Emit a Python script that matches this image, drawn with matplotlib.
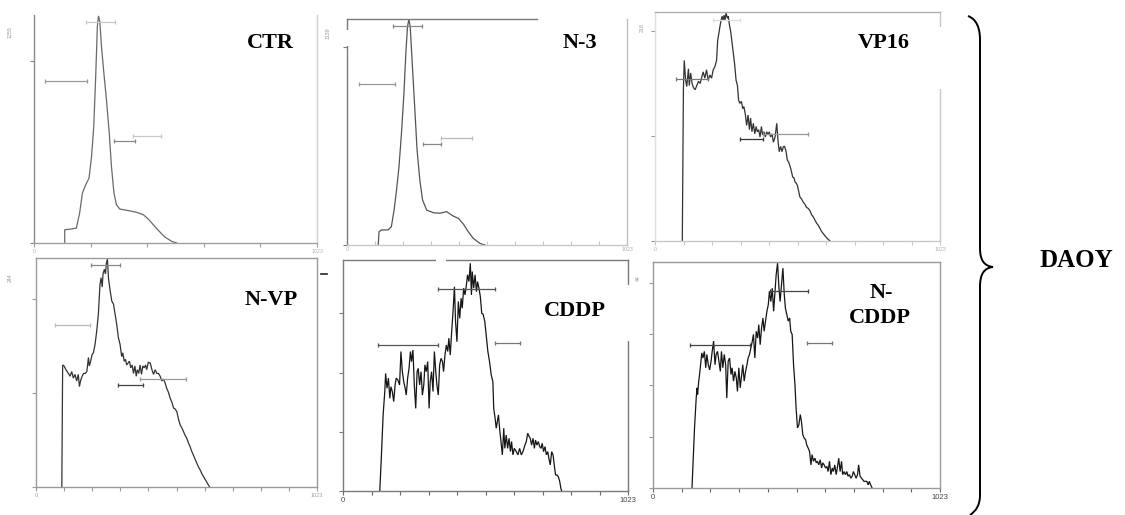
import matplotlib
matplotlib.use("Agg")
import matplotlib.pyplot as plt
from matplotlib.patches import Rectangle, PathPatch
from matplotlib.path import Path
from matplotlib.lines import Line2D

W, H = 1125, 515

# DNA content histograms: (channel, cell count)
ctr = [(111, 0), (111, 73), (135, 77), (153, 82), (165, 165), (175, 275), (187, 321), (199, 357),
       (208, 476), (216, 641), (223, 916), (229, 1191), (233, 1250), (238, 1218), (244, 1081),
       (252, 944), (262, 788), (272, 605), (280, 421), (289, 275), (298, 211), (310, 187),
       (335, 180), (371, 169), (395, 156), (413, 132), (431, 101), (449, 70), (473, 33),
       (498, 9), (516, 0)]

n3 = [(114, 0), (117, 67), (126, 76), (150, 76), (162, 92), (172, 176), (181, 277), (190, 395),
      (199, 563), (208, 764), (215, 966), (221, 1100), (226, 1137), (231, 1100), (239, 899),
      (248, 680), (256, 479), (266, 328), (276, 227), (291, 176), (315, 163), (339, 160),
      (364, 168), (388, 146), (407, 134), (425, 106), (443, 67), (461, 34), (486, 8), (504, 0)]

vp16 = [(98, 0), (102, 145), (105, 172), (110, 153), (114, 147), (120, 164), (123, 148), (128, 160),
        (133, 150), (138, 146), (144, 144), (150, 148), (156, 152), (162, 150), (168, 156),
        (173, 161), (179, 155), (185, 163), (191, 153), (197, 158), (203, 155), (209, 163),
        (215, 166), (221, 172), (225, 191), (230, 199), (233, 204), (237, 210), (241, 214),
        (244, 210), (248, 215), (251, 210), (255, 217), (260, 212), (263, 214), (267, 206),
        (272, 199), (276, 190), (281, 179), (286, 168), (291, 153), (296, 148), (300, 134),
        (305, 131), (310, 133), (315, 126), (319, 128), (324, 121), (329, 110), (334, 120),
        (339, 106), (343, 117), (348, 104), (353, 112), (358, 102), (363, 109), (367, 104),
        (372, 106), (377, 99), (382, 109), (386, 101), (391, 104), (396, 99), (401, 104),
        (406, 101), (410, 104), (415, 99), (420, 102), (425, 94), (431, 99), (437, 112),
        (442, 94), (446, 85), (451, 90), (456, 85), (461, 90), (465, 90), (470, 86), (475, 77),
        (480, 75), (485, 71), (490, 66), (494, 61), (499, 60), (503, 56), (507, 55), (511, 53),
        (516, 47), (520, 42), (526, 40), (532, 37), (538, 35), (544, 32), (550, 31), (556, 29),
        (562, 25), (568, 23), (574, 20), (580, 17), (586, 15), (592, 12), (598, 9), (604, 7),
        (610, 5), (616, 3), (628, 0)]

nvp = [(94, 0), (97, 130), (102, 129), (109, 125), (118, 121), (124, 118), (130, 123), (136, 116),
       (142, 120), (148, 113), (154, 120), (158, 107), (163, 114), (168, 118), (173, 121),
       (179, 121), (185, 123), (191, 138), (194, 129), (199, 134), (204, 141), (209, 143),
       (215, 152), (221, 166), (227, 184), (233, 216), (237, 223), (241, 213), (244, 227),
       (249, 232), (253, 227), (256, 238), (260, 243), (264, 222), (270, 209), (276, 198),
       (282, 195), (288, 184), (294, 173), (300, 159), (306, 152), (312, 139), (316, 143),
       (321, 134), (326, 136), (330, 130), (335, 132), (340, 134), (345, 127), (350, 130),
       (355, 121), (360, 129), (365, 118), (369, 125), (374, 121), (379, 130), (384, 120),
       (389, 129), (394, 127), (399, 130), (403, 125), (409, 133), (416, 132), (422, 125),
       (428, 120), (434, 125), (440, 121), (446, 121), (452, 118), (458, 113), (464, 115),
       (470, 111), (476, 105), (482, 101), (488, 95), (495, 90), (501, 84), (507, 83),
       (513, 80), (519, 72), (525, 66), (531, 63), (537, 59), (543, 55), (549, 52), (555, 47),
       (561, 43), (567, 38), (573, 34), (580, 29), (586, 25), (592, 21), (598, 18), (604, 14),
       (610, 11), (616, 8), (622, 5), (632, 0)]

cddp = [(132, 0), (138, 12.2), (144, 25.7), (150, 33.6), (153, 39.7), (158, 34.7), (163, 38.1),
        (168, 31.3), (172, 35.2), (177, 33.6), (182, 30.2), (187, 35.8), (191, 38.1), (197, 37.5),
        (203, 35.8), (208, 47.1), (213, 40.3), (218, 36.9), (223, 34.7), (227, 32.4), (232, 38.1),
        (237, 41.4), (242, 47.1), (246, 43.7), (251, 47.6), (256, 35.8), (261, 27.9), (266, 40.3),
        (270, 41.4), (275, 35.8), (280, 40.3), (285, 32.4), (290, 35.8), (294, 42.6), (299, 40.3),
        (304, 43.7), (309, 27.9), (313, 36.9), (318, 40.3), (323, 33.6), (328, 47.1), (333, 40.3),
        (337, 35.8), (342, 32.4), (347, 42.6), (352, 44.8), (357, 43.7), (361, 40.3), (366, 45.9),
        (371, 49.3), (376, 47.1), (380, 51.6), (385, 45.9), (390, 53.8), (395, 60.6), (400, 69.0),
        (404, 57.2), (409, 50.4), (414, 64.0), (419, 58.3), (424, 65.1), (428, 61.7), (433, 68.5),
        (438, 66.2), (443, 69.6), (447, 73.0), (452, 70.7), (457, 76.9), (461, 66.2), (464, 74.1),
        (469, 68.5), (474, 73.0), (479, 67.3), (483, 70.7), (488, 68.5), (493, 65.6), (498, 60.0),
        (503, 59.7), (509, 57.2), (514, 52.7), (520, 47.1), (526, 43.7), (532, 39.2), (538, 36.9),
        (541, 27.9), (546, 24.5), (550, 21.2), (558, 25.7), (562, 21.2), (567, 16.7), (572, 12.2),
        (577, 21.2), (581, 14.4), (586, 18.9), (591, 14.4), (596, 17.8), (601, 13.3), (605, 16.7),
        (610, 12.2), (615, 14.4), (622, 13.3), (628, 12.2), (634, 14.4), (640, 12.2), (646, 13.3),
        (653, 15.5), (658, 16.7), (663, 19.5), (668, 18.4), (672, 17.8), (677, 15.5), (682, 17.8),
        (687, 14.4), (691, 17.2), (696, 15.5), (701, 16.7), (706, 15.0), (711, 14.4), (715, 16.1),
        (720, 13.3), (725, 15.0), (730, 12.2), (735, 13.3), (739, 11.0), (744, 8.8), (749, 13.3),
        (754, 12.2), (759, 8.2), (763, 5.4), (768, 5.4), (773, 4.8), (778, 3.2), (782, 0.9),
        (785, 0)]

ncddp = [(139, 0), (142, 3.9), (148, 11.7), (154, 17.5), (157, 19.5), (159, 18.2), (163, 20.8),
         (166, 22.1), (171, 24.7), (174, 26.3), (178, 25.3), (183, 26.6), (188, 23.4), (192, 26.0),
         (197, 24.0), (202, 23.0), (207, 24.7), (211, 26.6), (216, 28.6), (221, 24.0), (225, 26.0),
         (230, 26.6), (235, 24.7), (240, 22.7), (244, 26.6), (249, 23.4), (254, 26.0), (259, 24.0),
         (263, 17.5), (268, 24.7), (273, 25.3), (278, 22.1), (282, 23.4), (287, 20.8), (292, 22.7),
         (297, 21.4), (301, 18.8), (306, 23.4), (311, 19.5), (316, 22.1), (320, 24.0), (325, 20.8),
         (330, 22.7), (335, 24.0), (339, 25.3), (344, 26.0), (349, 27.3), (354, 28.6), (358, 29.9),
         (363, 25.3), (368, 30.5), (373, 29.2), (377, 31.8), (382, 27.9), (387, 31.2), (392, 33.1),
         (396, 30.5), (401, 32.5), (406, 34.4), (411, 35.7), (415, 38.3), (420, 36.3), (425, 38.9),
         (430, 34.4), (434, 37.6), (439, 41.5), (444, 43.8), (449, 38.9), (453, 36.3), (458, 39.6),
         (463, 42.8), (468, 37.6), (472, 35.0), (477, 33.7), (482, 32.5), (487, 33.1), (491, 30.5),
         (496, 29.9), (501, 24.0), (506, 20.1), (510, 15.6), (515, 11.7), (520, 12.3), (525, 14.3),
         (529, 13.0), (534, 10.4), (539, 9.7), (544, 9.4), (548, 8.4), (553, 7.8), (558, 7.1),
         (563, 4.5), (567, 6.5), (572, 5.2), (577, 5.8), (582, 4.9), (586, 5.2), (591, 4.5),
         (596, 5.5), (601, 3.9), (605, 4.9), (610, 4.5), (615, 3.9), (620, 4.2), (624, 3.2),
         (629, 5.2), (634, 2.6), (639, 3.9), (643, 3.2), (648, 4.5), (653, 2.6), (657, 3.9),
         (662, 5.8), (667, 3.2), (672, 5.2), (676, 2.6), (681, 3.2), (686, 2.6), (691, 3.2),
         (695, 2.3), (700, 2.6), (705, 1.9), (710, 2.3), (714, 3.2), (719, 2.6), (724, 1.9),
         (729, 2.6), (733, 4.5), (738, 2.3), (743, 1.9), (748, 1.6), (752, 1.3), (757, 1.3),
         (762, 1.3), (767, 0.6), (771, 1.3), (776, 0.6), (781, 0)]

# marker gates: (start channel, end channel, height, grey level)
ctr_gates = [(187, 292, 1215, "#c8c8c8"), (41, 190, 892, "#999999"),
             (290, 365, 559, "#888888"), (359, 458, 590, "#c8c8c8")]
n3_gates = [(168, 275, 1105, "#888888"), (44, 175, 810, "#999999"),
            (276, 343, 509, "#888888"), (343, 455, 538, "#bbbbbb")]
vp16_gates = [(207, 305, 210, "#dddddd"), (75, 191, 154, "#777777"),
              (305, 389, 97, "#333333"), (389, 550, 102, "#999999")]
nvp_gates = [(200, 304, 237, "#888888"), (69, 197, 173, "#bbbbbb"),
             (300, 389, 109, "#444444"), (379, 547, 115, "#999999")]
cddp_gates = [(341, 547, 68.1, "#555555"), (126, 341, 49.3, "#555555"),
              (547, 634, 50.1, "#777777")]
ncddp_gates = [(418, 551, 38.4, "#444444"), (133, 347, 27.8, "#444444"),
               (548, 637, 28.2, "#777777")]

titles = ["CTR", "N-3", "VP16", "N-VP", "CDDP", "N-\nCDDP"]
ymax_labels = ["1255", "1139", "218", "244", "", "44"]
ymax = [1255, 1139, 218, 244, 78, 44]
yticks = [[0, 1000], [0, 1000], [0, 100, 200], [0, 100, 200], [0, 20, 40, 60], [0, 10, 20, 30, 40]]
curves = [ctr, n3, vp16, nvp, cddp, ncddp]
gates = [ctr_gates, n3_gates, vp16_gates, nvp_gates, cddp_gates, ncddp_gates]

# layout / style of each panel (pixel boxes: left, top, right, bottom)
boxes = [(34, 15, 317, 243), (347, 19, 627, 245), (655, 12, 940, 241),
         (36, 258, 317, 487), (343, 260, 628, 491), (653, 262, 940, 488)]
line_cols = ["#6a6a6a", "#555555", "#333333", "#333333", "#161616", "#161616"]
xsteps = [5, 10, 10, 10, 10, 10]
# spine colours: left, top, right, bottom
spine_cols = [("#8a8a8a", None, "#d0d0d0", "#a0a0a0"),
              ("#7a7a7a", "#7a7a7a", "#c0c0c0", "#c8c8c8"),
              ("#e0e0e0", "#b0b0b0", "#c8c8c8", "#c8c8c8"),
              ("#9a9a9a", "#9a9a9a", "#9a9a9a", "#9a9a9a"),
              ("#7a7a7a", "#7a7a7a", "#7a7a7a", "#7a7a7a"),
              ("#9a9a9a", "#9a9a9a", "#9a9a9a", "#9a9a9a")]
tick_font = [3.8, 3.8, 3.8, 4.0, 5.5, 5.5]
tick_col = ["#b0b0b0", "#b0b0b0", "#b0b0b0", "#a0a0a0", "#444444", "#444444"]
ymax_pos = [(10, 32), (328, 33), (642, 28), (10, 278), (0, 0), (638, 278)]
title_pos = [(270, 48), (580, 48), (884, 48), (271, 305), (575, 316), (880, 323)]

fig = plt.figure(figsize=(W / 100, H / 100), dpi=100)
fig.patch.set_facecolor("white")


def fx(x, y):
    return x / W, 1 - y / H


for i in range(6):
    l, t, r, b = boxes[i]
    ax = fig.add_axes([l / W, 1 - b / H, (r - l) / W, (b - t) / H])
    ch = [p[0] for p in curves[i]]
    cnt = [p[1] for p in curves[i]]
    ax.plot(ch, cnt, color=line_cols[i], lw=0.9, solid_joinstyle="miter")
    for a, e, y, c in gates[i]:
        ax.plot([a, e], [y, y], color=c, lw=0.9)
        ax.plot([a, e], [y, y], ls="none", marker="|", ms=3.5, mew=0.9, color=c)
    ax.set_xlim(0, 1023)
    ax.set_ylim(0, ymax[i])
    n = xsteps[i]
    ax.set_xticks([1023 * k / n for k in range(n + 1)])
    ax.set_xticklabels(["0"] + [""] * (n - 1) + ["1023"])
    ax.set_yticks(yticks[i])
    ax.set_yticklabels([])
    ax.tick_params(axis="x", direction="in" if i == 1 else "out", length=3, width=0.8,
                   colors=spine_cols[i][3] if i < 4 else "#666666", pad=1.5,
                   labelsize=tick_font[i], labelcolor=tick_col[i])
    ax.tick_params(axis="y", direction="out", length=3, width=0.8,
                   colors=spine_cols[i][0] if i != 2 else "#999999")
    for side, c in zip(["left", "top", "right", "bottom"], spine_cols[i]):
        if c is None:
            ax.spines[side].set_visible(False)
        else:
            ax.spines[side].set_color(c)
            ax.spines[side].set_linewidth(1.0)
    if i == 1:
        ax.spines["top"].set_bounds(0, 694)
    for lab in ax.get_xticklabels():
        lab.set_family("Liberation Sans")
    if ymax_labels[i]:
        fig.text(*fx(*ymax_pos[i]), ymax_labels[i], rotation=90, ha="center", va="center",
                 fontsize=3.8, color="#999999", family="Liberation Sans")

# white patches where the pasted labels cut into the frames
for x0, y0, x1, y1 in [(936, 27, 945, 89), (436, 256, 446, 264), (624, 285, 633, 341),
                       (343, 30, 351, 46)]:
    fig.add_artist(Rectangle(fx(x0, y1), (x1 - x0) / W, (y1 - y0) / H,
                             transform=fig.transFigure, facecolor="white",
                             edgecolor="none", zorder=10))

# stray tick left of the CDDP frame
fig.add_artist(Line2D([321 / W, 327 / W], [1 - 274 / H, 1 - 274 / H], color="#222222",
                      lw=1.2, transform=fig.transFigure))

for i in range(6):
    if i == 5:
        fig.text(*fx(881, 298), "N-", ha="center", va="baseline", fontsize=16,
                 fontweight="bold", family="Liberation Serif", zorder=11)
        fig.text(*fx(880, 323), "CDDP", ha="center", va="baseline", fontsize=16,
                 fontweight="bold", family="Liberation Serif", zorder=11)
    else:
        fig.text(*fx(*title_pos[i]), titles[i], ha="center", va="baseline", fontsize=16,
                 fontweight="bold", family="Liberation Serif", zorder=11)

# curly brace grouping all six panels
pts = [(968, 16), (976, 19), (980, 27), (980, 40),
       (980, 248),
       (980, 260), (984, 266), (993, 267),
       (984, 268), (980, 274), (980, 287),
       (980, 495),
       (980, 505), (976, 511), (970, 515)]
codes = [Path.MOVETO, Path.CURVE4, Path.CURVE4, Path.CURVE4, Path.LINETO,
         Path.CURVE4, Path.CURVE4, Path.CURVE4, Path.CURVE4, Path.CURVE4, Path.CURVE4,
         Path.LINETO, Path.CURVE4, Path.CURVE4, Path.CURVE4]
brace = Path([fx(x, y) for x, y in pts], codes)
fig.add_artist(PathPatch(brace, transform=fig.transFigure, facecolor="none",
                         edgecolor="black", lw=1.4, zorder=11))

fig.text(*fx(1076, 267), "DAOY", ha="center", va="baseline", fontsize=18,
         fontweight="bold", family="Liberation Serif")

fig.savefig("out.png", dpi=100, facecolor="white")
